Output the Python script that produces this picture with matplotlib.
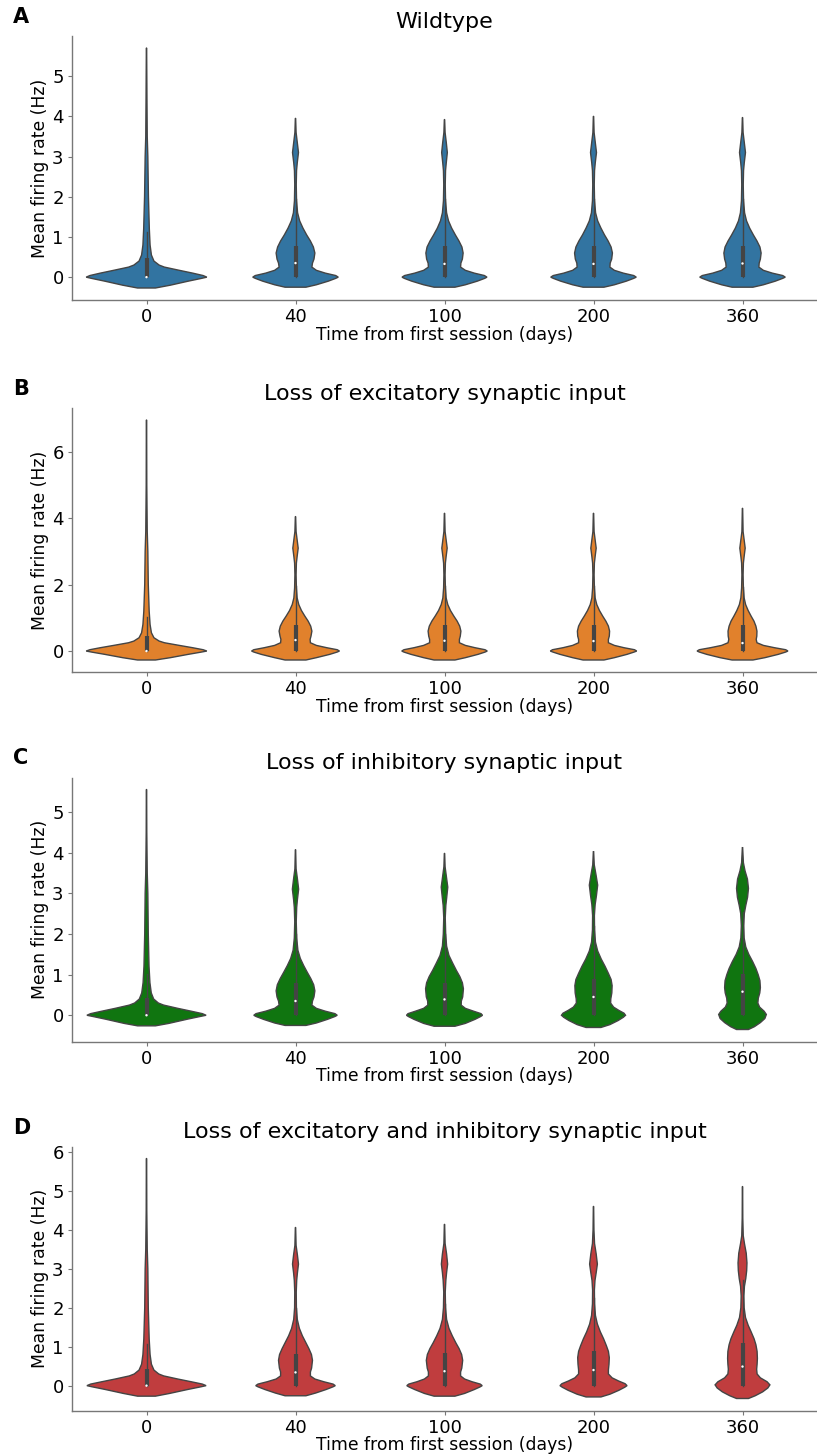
import matplotlib
matplotlib.use("Agg")
import matplotlib.pyplot as plt

# x categories (days since first session)
days = ["0", "40", "100", "200", "360"]

titles = ["Wildtype",
          "Loss of excitatory synaptic input",
          "Loss of inhibitory synaptic input",
          "Loss of excitatory and inhibitory synaptic input"]
panel_letters = ["A", "B", "C", "D"]
colors = ["#3274a1", "#e1812c", "#107510", "#c03d3e"]

# violin outlines: (firing rate, half width in category units)
wt_violins = [
    [(-0.27, 0.06), (-0.2, 0.16), (-0.1, 0.28), (-0.03, 0.37), (0.0, 0.405), (0.04, 0.38), (0.1, 0.31),
     (0.17, 0.22), (0.25, 0.12), (0.3, 0.085), (0.4, 0.05), (0.55, 0.033), (0.8, 0.024), (1.2, 0.019),
     (2.0, 0.013), (3.0, 0.009), (3.5, 0.005), (4.5, 0.003), (5.7, 0.001)],
    [(-0.25, 0.07), (-0.19, 0.14), (-0.1, 0.22), (-0.03, 0.27), (0.0, 0.287), (0.04, 0.27), (0.1, 0.2),
     (0.17, 0.14), (0.25, 0.11), (0.35, 0.114), (0.45, 0.124), (0.6, 0.13), (0.75, 0.12), (0.9, 0.1),
     (1.05, 0.075), (1.22, 0.05), (1.4, 0.028), (1.6, 0.014), (1.9, 0.007), (2.3, 0.005), (2.65, 0.007),
     (2.85, 0.012), (3.1, 0.02), (3.35, 0.012), (3.6, 0.004), (3.95, 0.001)],
    [(-0.25, 0.07), (-0.19, 0.14), (-0.1, 0.22), (-0.03, 0.27), (0.0, 0.285), (0.04, 0.268), (0.1, 0.2),
     (0.17, 0.14), (0.25, 0.108), (0.35, 0.11), (0.45, 0.12), (0.6, 0.125), (0.75, 0.117), (0.9, 0.097),
     (1.05, 0.073), (1.22, 0.048), (1.4, 0.027), (1.6, 0.014), (1.9, 0.007), (2.3, 0.005), (2.65, 0.007),
     (2.85, 0.012), (3.1, 0.019), (3.35, 0.012), (3.6, 0.004), (3.92, 0.001)],
    [(-0.25, 0.07), (-0.19, 0.14), (-0.1, 0.22), (-0.03, 0.27), (0.0, 0.287), (0.04, 0.27), (0.1, 0.2),
     (0.17, 0.14), (0.25, 0.11), (0.35, 0.112), (0.45, 0.122), (0.6, 0.127), (0.75, 0.118), (0.9, 0.098),
     (1.05, 0.074), (1.22, 0.05), (1.4, 0.028), (1.6, 0.014), (1.9, 0.007), (2.3, 0.005), (2.65, 0.007),
     (2.85, 0.012), (3.1, 0.02), (3.35, 0.012), (3.6, 0.004), (4.0, 0.001)],
    [(-0.25, 0.07), (-0.19, 0.14), (-0.1, 0.22), (-0.03, 0.27), (0.0, 0.287), (0.04, 0.27), (0.1, 0.2),
     (0.17, 0.14), (0.25, 0.11), (0.35, 0.112), (0.45, 0.12), (0.6, 0.125), (0.75, 0.117), (0.9, 0.097),
     (1.05, 0.073), (1.22, 0.048), (1.4, 0.027), (1.6, 0.014), (1.9, 0.007), (2.3, 0.005), (2.65, 0.007),
     (2.85, 0.012), (3.1, 0.02), (3.35, 0.012), (3.6, 0.004), (3.97, 0.001)],
]
wt_median = [0.0, 0.35, 0.33, 0.33, 0.34]
wt_q3 = [0.47, 0.78, 0.78, 0.78, 0.78]
wt_whisker = [1.12, 1.95, 1.95, 1.95, 1.95]

exc_violins = [
    [(-0.27, 0.06), (-0.2, 0.16), (-0.1, 0.28), (-0.03, 0.37), (0.0, 0.405), (0.04, 0.38), (0.1, 0.31),
     (0.17, 0.22), (0.25, 0.12), (0.3, 0.085), (0.4, 0.05), (0.55, 0.033), (0.8, 0.024), (1.2, 0.018),
     (2.0, 0.012), (3.0, 0.009), (3.6, 0.005), (5.0, 0.002), (6.96, 0.001)],
    [(-0.27, 0.07), (-0.2, 0.14), (-0.1, 0.23), (-0.03, 0.28), (0.0, 0.295), (0.04, 0.28), (0.1, 0.21),
     (0.17, 0.14), (0.25, 0.1), (0.35, 0.098), (0.45, 0.104), (0.6, 0.11), (0.75, 0.102), (0.9, 0.085),
     (1.05, 0.063), (1.22, 0.04), (1.4, 0.022), (1.6, 0.011), (1.9, 0.006), (2.3, 0.004), (2.65, 0.006),
     (2.85, 0.011), (3.1, 0.018), (3.35, 0.011), (3.6, 0.004), (4.05, 0.001)],
    [(-0.27, 0.07), (-0.2, 0.14), (-0.1, 0.225), (-0.03, 0.273), (0.0, 0.287), (0.04, 0.272), (0.1, 0.205),
     (0.17, 0.14), (0.25, 0.1), (0.35, 0.1), (0.45, 0.106), (0.6, 0.11), (0.75, 0.102), (0.9, 0.085),
     (1.05, 0.063), (1.22, 0.04), (1.4, 0.022), (1.6, 0.011), (1.9, 0.006), (2.3, 0.004), (2.65, 0.006),
     (2.85, 0.011), (3.1, 0.018), (3.35, 0.011), (3.6, 0.004), (4.15, 0.001)],
    [(-0.27, 0.07), (-0.2, 0.14), (-0.1, 0.225), (-0.03, 0.273), (0.0, 0.29), (0.04, 0.275), (0.1, 0.205),
     (0.17, 0.14), (0.25, 0.1), (0.35, 0.1), (0.45, 0.106), (0.6, 0.108), (0.75, 0.1), (0.9, 0.083),
     (1.05, 0.062), (1.22, 0.04), (1.4, 0.022), (1.6, 0.011), (1.9, 0.006), (2.3, 0.004), (2.65, 0.006),
     (2.85, 0.011), (3.1, 0.018), (3.35, 0.011), (3.6, 0.004), (4.15, 0.001)],
    [(-0.27, 0.07), (-0.2, 0.15), (-0.1, 0.24), (-0.03, 0.29), (0.0, 0.305), (0.04, 0.29), (0.1, 0.215),
     (0.17, 0.14), (0.25, 0.097), (0.35, 0.092), (0.45, 0.096), (0.6, 0.097), (0.75, 0.09), (0.9, 0.077),
     (1.05, 0.058), (1.22, 0.038), (1.4, 0.021), (1.6, 0.011), (1.9, 0.006), (2.3, 0.004), (2.65, 0.006),
     (2.85, 0.011), (3.1, 0.018), (3.35, 0.011), (3.6, 0.004), (4.3, 0.001)],
]
exc_median = [0.0, 0.33, 0.31, 0.30, 0.24]
exc_q3 = [0.45, 0.78, 0.78, 0.78, 0.77]
exc_whisker = [1.03, 1.95, 1.95, 1.95, 1.93]

inh_violins = [
    [(-0.26, 0.06), (-0.2, 0.15), (-0.1, 0.27), (-0.03, 0.36), (0.0, 0.4), (0.04, 0.375), (0.1, 0.3),
     (0.17, 0.21), (0.25, 0.115), (0.3, 0.08), (0.4, 0.048), (0.55, 0.032), (0.8, 0.023), (1.2, 0.017),
     (2.0, 0.012), (3.0, 0.009), (3.5, 0.005), (4.5, 0.002), (5.55, 0.001)],
    [(-0.25, 0.07), (-0.19, 0.14), (-0.1, 0.215), (-0.03, 0.265), (0.0, 0.28), (0.04, 0.265), (0.1, 0.2),
     (0.17, 0.14), (0.25, 0.11), (0.35, 0.114), (0.45, 0.124), (0.6, 0.13), (0.75, 0.122), (0.9, 0.103),
     (1.05, 0.08), (1.22, 0.055), (1.4, 0.032), (1.6, 0.016), (1.9, 0.008), (2.3, 0.005), (2.65, 0.008),
     (2.85, 0.013), (3.1, 0.021), (3.35, 0.013), (3.6, 0.004), (4.07, 0.001)],
    [(-0.27, 0.07), (-0.2, 0.14), (-0.1, 0.205), (-0.03, 0.243), (0.0, 0.255), (0.04, 0.245), (0.1, 0.195),
     (0.17, 0.14), (0.25, 0.112), (0.35, 0.113), (0.45, 0.122), (0.65, 0.127), (0.8, 0.12), (0.95, 0.103),
     (1.1, 0.08), (1.28, 0.055), (1.47, 0.03), (1.7, 0.014), (2.0, 0.008), (2.4, 0.005), (2.7, 0.009),
     (2.9, 0.015), (3.15, 0.022), (3.4, 0.013), (3.65, 0.004), (3.98, 0.001)],
    [(-0.3, 0.05), (-0.23, 0.11), (-0.13, 0.165), (-0.05, 0.2), (0.0, 0.215), (0.05, 0.205), (0.12, 0.17),
     (0.2, 0.135), (0.3, 0.115), (0.4, 0.116), (0.55, 0.123), (0.73, 0.125), (0.88, 0.118), (1.03, 0.1),
     (1.2, 0.078), (1.38, 0.052), (1.58, 0.028), (1.8, 0.013), (2.1, 0.007), (2.45, 0.006), (2.72, 0.011),
     (2.95, 0.02), (3.2, 0.028), (3.45, 0.017), (3.7, 0.005), (4.02, 0.001)],
    [(-0.35, 0.04), (-0.28, 0.08), (-0.18, 0.12), (-0.08, 0.15), (0.02, 0.16), (0.1, 0.145), (0.2, 0.115),
     (0.3, 0.103), (0.42, 0.106), (0.55, 0.116), (0.68, 0.12), (0.85, 0.117), (1.0, 0.105), (1.15, 0.09),
     (1.32, 0.068), (1.5, 0.042), (1.68, 0.022), (1.9, 0.011), (2.2, 0.008), (2.5, 0.012), (2.7, 0.022),
     (2.9, 0.034), (3.12, 0.04), (3.35, 0.033), (3.55, 0.017), (3.75, 0.006), (4.12, 0.001)],
]
inh_median = [0.0, 0.35, 0.39, 0.45, 0.58]
inh_q3 = [0.43, 0.80, 0.80, 0.88, 1.02]
inh_whisker = [1.02, 2.0, 2.0, 2.2, 2.55]

both_violins = [
    [(-0.27, 0.06), (-0.2, 0.155), (-0.1, 0.275), (-0.03, 0.365), (0.0, 0.4), (0.04, 0.375), (0.1, 0.3),
     (0.17, 0.21), (0.25, 0.115), (0.3, 0.082), (0.4, 0.05), (0.55, 0.033), (0.8, 0.024), (1.2, 0.018),
     (2.0, 0.012), (3.0, 0.009), (3.5, 0.005), (4.5, 0.002), (5.83, 0.001)],
    [(-0.26, 0.07), (-0.19, 0.135), (-0.1, 0.205), (-0.03, 0.252), (0.0, 0.267), (0.04, 0.252), (0.1, 0.19),
     (0.17, 0.13), (0.25, 0.1), (0.35, 0.1), (0.45, 0.108), (0.65, 0.114), (0.8, 0.107), (0.95, 0.09),
     (1.1, 0.07), (1.28, 0.046), (1.47, 0.026), (1.7, 0.012), (2.0, 0.006), (2.4, 0.005), (2.7, 0.008),
     (2.9, 0.013), (3.12, 0.02), (3.35, 0.013), (3.6, 0.004), (4.06, 0.001)],
    [(-0.27, 0.07), (-0.2, 0.135), (-0.1, 0.2), (-0.03, 0.24), (0.0, 0.253), (0.04, 0.24), (0.1, 0.185),
     (0.17, 0.135), (0.25, 0.108), (0.35, 0.108), (0.45, 0.116), (0.65, 0.122), (0.8, 0.115), (0.95, 0.098),
     (1.1, 0.076), (1.28, 0.052), (1.47, 0.03), (1.7, 0.014), (2.0, 0.007), (2.4, 0.005), (2.7, 0.009),
     (2.9, 0.014), (3.12, 0.021), (3.38, 0.014), (3.65, 0.004), (4.14, 0.001)],
    [(-0.29, 0.05), (-0.22, 0.11), (-0.12, 0.17), (-0.04, 0.21), (0.0, 0.225), (0.05, 0.212), (0.12, 0.168),
     (0.2, 0.125), (0.3, 0.1), (0.4, 0.1), (0.55, 0.104), (0.72, 0.106), (0.88, 0.1), (1.03, 0.086),
     (1.2, 0.068), (1.38, 0.046), (1.58, 0.026), (1.8, 0.013), (2.1, 0.007), (2.45, 0.006), (2.7, 0.01),
     (2.9, 0.018), (3.12, 0.026), (3.38, 0.018), (3.65, 0.007), (4.0, 0.003), (4.6, 0.001)],
    [(-0.33, 0.04), (-0.26, 0.085), (-0.16, 0.135), (-0.06, 0.17), (0.02, 0.184), (0.1, 0.165), (0.2, 0.12),
     (0.3, 0.098), (0.42, 0.095), (0.55, 0.098), (0.7, 0.1), (0.88, 0.098), (1.05, 0.09), (1.2, 0.078),
     (1.38, 0.058), (1.55, 0.038), (1.75, 0.02), (2.0, 0.011), (2.3, 0.009), (2.55, 0.013), (2.75, 0.022),
     (2.95, 0.028), (3.15, 0.03), (3.4, 0.025), (3.65, 0.013), (3.85, 0.005), (4.3, 0.002), (5.11, 0.001)],
]
both_median = [0.0, 0.34, 0.37, 0.40, 0.49]
both_q3 = [0.44, 0.81, 0.85, 0.90, 1.09]
both_whisker = [1.06, 2.0, 2.1, 2.25, 2.7]

q1 = [0.0, 0.0, 0.0, 0.0, 0.0]

panels = [
    (wt_violins, wt_median, wt_q3, wt_whisker),
    (exc_violins, exc_median, exc_q3, exc_whisker),
    (inh_violins, inh_median, inh_q3, inh_whisker),
    (both_violins, both_median, both_q3, both_whisker),
]

edge = "#444444"
axes_bottoms = [1 - 300 / 1454, 1 - 672 / 1454, 1 - 1041.5 / 1454, 1 - 1410.5 / 1454]
axes_height = 264 / 1454

fig = plt.figure(figsize=(8.17, 14.54), dpi=100)

for p, (violins, med, q3, whisk) in enumerate(panels):
    ax = fig.add_axes([72 / 817, axes_bottoms[p], 745 / 817, axes_height])
    for i, outline in enumerate(violins):
        ys = [pt[0] for pt in outline]
        ws = [pt[1] for pt in outline]
        xs = [i + w for w in ws] + [i - w for w in reversed(ws)]
        yy = ys + ys[::-1]
        ax.fill(xs, yy, facecolor=colors[p], edgecolor=edge, linewidth=1.0, zorder=1)
        # inner box: whisker, IQR bar, median dot
        ax.plot([i, i], [q1[i], whisk[i]], color=edge, linewidth=1.0, zorder=2)
        ax.plot([i, i], [q1[i], q3[i]], color=edge, linewidth=3.0, solid_capstyle="butt", zorder=2)
        ax.scatter([i], [med[i]], s=3, color="white", edgecolor="none", zorder=3)

    ax.set_xlim(-0.5, 4.5)
    ax.set_xticks(range(len(days)))
    ax.set_xticklabels(days)
    ax.autoscale(axis="y")
    ax.margins(y=0.05)
    for s in ["top", "right"]:
        ax.spines[s].set_visible(False)
    for s in ["left", "bottom"]:
        ax.spines[s].set_color("#777777")
        ax.spines[s].set_linewidth(1.0)
    ax.tick_params(labelsize=13, length=3, color="#777777", pad=3)
    ax.set_ylabel("Mean firing rate (Hz)", fontsize=12.4, labelpad=2)
    ax.set_xlabel("Time from first session (days)", fontsize=12.4, labelpad=-0.5)
    ax.set_title(titles[p], fontsize=16, pad=6)
    top_px = 1454 * (1 - axes_bottoms[p] - axes_height)
    fig.text(13 / 817, 1 - (top_px - 19) / 1454, panel_letters[p], fontsize=15,
             fontweight="bold", va="center", ha="left")

fig.savefig("out.png", dpi=100)
